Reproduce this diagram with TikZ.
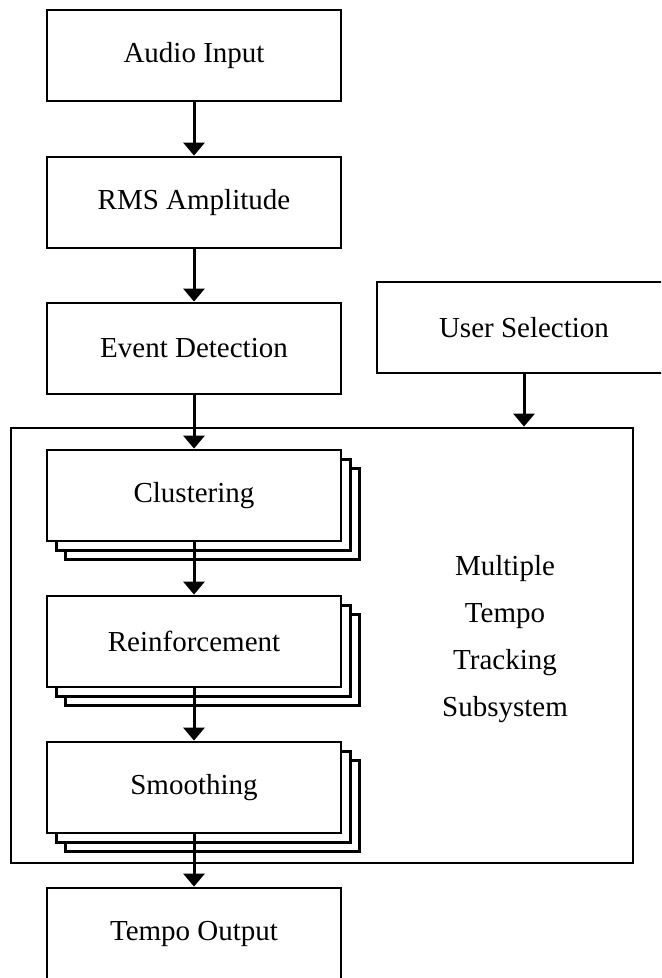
\documentclass[tikz,border=0pt]{standalone}
\usepackage{fontspec}
\setmainfont{Liberation Serif}
\usetikzlibrary{arrows.meta,shadows}

\begin{document}
\begin{tikzpicture}[
    x=0.5pt, y=-0.5pt,
    block/.style={
        draw,
        line width=1.4pt,
        fill=white,
        minimum width=147pt,
        minimum height=45.5pt,
        font=\fontsize{14.5}{17}\selectfont,
        align=center
    },
    stacked/.style={
        block,
        double copy shadow={shadow xshift=4.6pt, shadow yshift=-4.6pt, line width=1.4pt}
    },
    flow/.style={
        -{Triangle[width=10.5pt,length=6.5pt]},
        line width=1.5pt
    }
]
    \clip (0,0) rectangle (661,978);

    % --- Main chain ---
    \node[block] (audio) at (194,55.5) {Audio Input};
    \node[block] (rms) at (194,202.5) {RMS Amplitude};
    \node[block] (event) at (194,348.5) {Event Detection};
    \node[block] (user) at (524,327.5) {User Selection};

    % --- Subsystem ---
    \node[draw, line width=1.4pt, minimum width=311pt, minimum height=217.5pt]
        (subsys) at (322,645.5) {};
    \node[font=\fontsize{14.5}{23.5}\selectfont, align=center]
        (label) at (505,639) {Multiple\\Tempo\\Tracking\\Subsystem};

    \node[stacked] (clust) at (194,495.5) {Clustering};
    \node[stacked] (reinf) at (194,641.5) {Reinforcement};
    \node[stacked] (smooth) at (194,787.5) {Smoothing};

    % --- Output ---
    \node[block] (output) at (194,933.5) {Tempo Output};

    % --- Arrows ---
    \draw[flow] (audio) -- (rms);
    \draw[flow] (rms) -- (event);
    \draw[flow] (event) -- (clust);
    \draw[flow] (user.south) -- (user.south |- subsys.north);
    \draw[flow] (clust) -- (reinf);
    \draw[flow] (reinf) -- (smooth);
    \draw[flow] (smooth) -- (output);
\end{tikzpicture}
\end{document}
